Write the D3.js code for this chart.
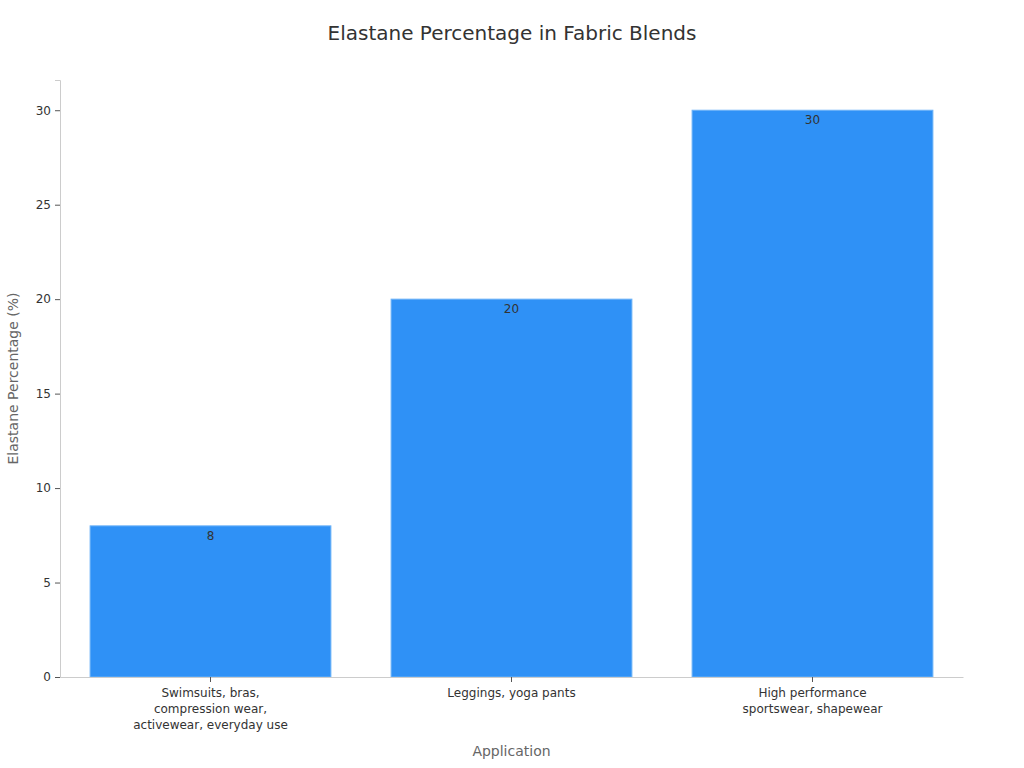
<!DOCTYPE html>
<html lang="en">
<head>
<meta charset="UTF-8">
<title>Elastane Percentage in Fabric Blends</title>
<style>
  body { margin: 0; background: #fff; font-family: "DejaVu Sans", sans-serif; }
</style>
</head>
<body>
<script src="https://d3js.org/d3.v7.min.js"></script>
<script>
const categories = [
  ["Swimsuits, bras,", "compression wear,", "activewear, everyday use"],
  ["Leggings, yoga pants"],
  ["High performance", "sportswear, shapewear"]
];
const values = [8, 20, 30];
const yTicks = [0, 5, 10, 15, 20, 25, 30];

const width = 1024, height = 768;
const margin = {top: 80, right: 61, bottom: 91, left: 60};

const svg = d3.select("body").append("svg")
  .attr("width", width)
  .attr("height", height);

const keys = categories.map(c => c.join(" "));

const x = d3.scaleBand()
  .domain(keys)
  .range([margin.left, width - margin.right])
  .paddingInner(0.2)
  .paddingOuter(0.1);

const y = d3.scaleLinear()
  .domain([0, 31.6])
  .range([height - margin.bottom, margin.top]);

// title
svg.append("text")
  .attr("x", width / 2)
  .attr("y", 40)
  .attr("text-anchor", "middle")
  .attr("font-size", 20)
  .attr("fill", "#333")
  .text("Elastane Percentage in Fabric Blends");

// bars
svg.selectAll("rect.bar")
  .data(values)
  .join("rect")
  .attr("class", "bar")
  .attr("x", (d, i) => x(keys[i]))
  .attr("y", d => y(d))
  .attr("width", x.bandwidth())
  .attr("height", d => y(0) - y(d))
  .attr("fill", "#2f91f6")
  .attr("stroke", "#6db3f8")
  .attr("stroke-width", 1);

// value labels
svg.selectAll("text.val")
  .data(values)
  .join("text")
  .attr("class", "val")
  .attr("x", (d, i) => x(keys[i]) + x.bandwidth() / 2)
  .attr("y", d => y(d) + 14)
  .attr("text-anchor", "middle")
  .attr("font-size", 12)
  .attr("fill", "#333")
  .text(d => d);

// y axis
const yAxis = svg.append("g")
  .attr("transform", `translate(${margin.left},0)`)
  .call(d3.axisLeft(y).tickValues(yTicks).tickSize(5).tickPadding(4));
yAxis.select(".domain").attr("stroke", "#ccc");
yAxis.selectAll(".tick line").attr("stroke", "#555");
yAxis.selectAll(".tick text")
  .attr("font-family", "DejaVu Sans, sans-serif")
  .attr("font-size", 12)
  .attr("fill", "#333");

// x axis
const xAxis = svg.append("g")
  .attr("transform", `translate(0,${y(0)})`)
  .call(d3.axisBottom(x).tickSize(5).tickSizeOuter(0).tickPadding(4));
xAxis.select(".domain").attr("stroke", "#ccc");
xAxis.selectAll(".tick line").attr("stroke", "#555");
xAxis.selectAll(".tick text").remove();
xAxis.selectAll(".tick").each(function(d, i) {
  const t = d3.select(this).append("text")
    .attr("fill", "#333")
    .attr("font-family", "DejaVu Sans, sans-serif")
    .attr("font-size", 12)
    .attr("text-anchor", "middle")
    .attr("y", 20);
  categories[i].forEach((line, j) => {
    t.append("tspan").attr("x", 0).attr("dy", j === 0 ? 0 : 16).text(line);
  });
});

// axis titles
svg.append("text")
  .attr("x", (margin.left + width - margin.right) / 2)
  .attr("y", 756)
  .attr("text-anchor", "middle")
  .attr("font-size", 14)
  .attr("fill", "#666")
  .text("Application");

svg.append("text")
  .attr("transform", `translate(18,${(margin.top + height - margin.bottom) / 2}) rotate(-90)`)
  .attr("text-anchor", "middle")
  .attr("font-size", 14)
  .attr("fill", "#666")
  .text("Elastane Percentage (%)");
</script>
</body>
</html>
